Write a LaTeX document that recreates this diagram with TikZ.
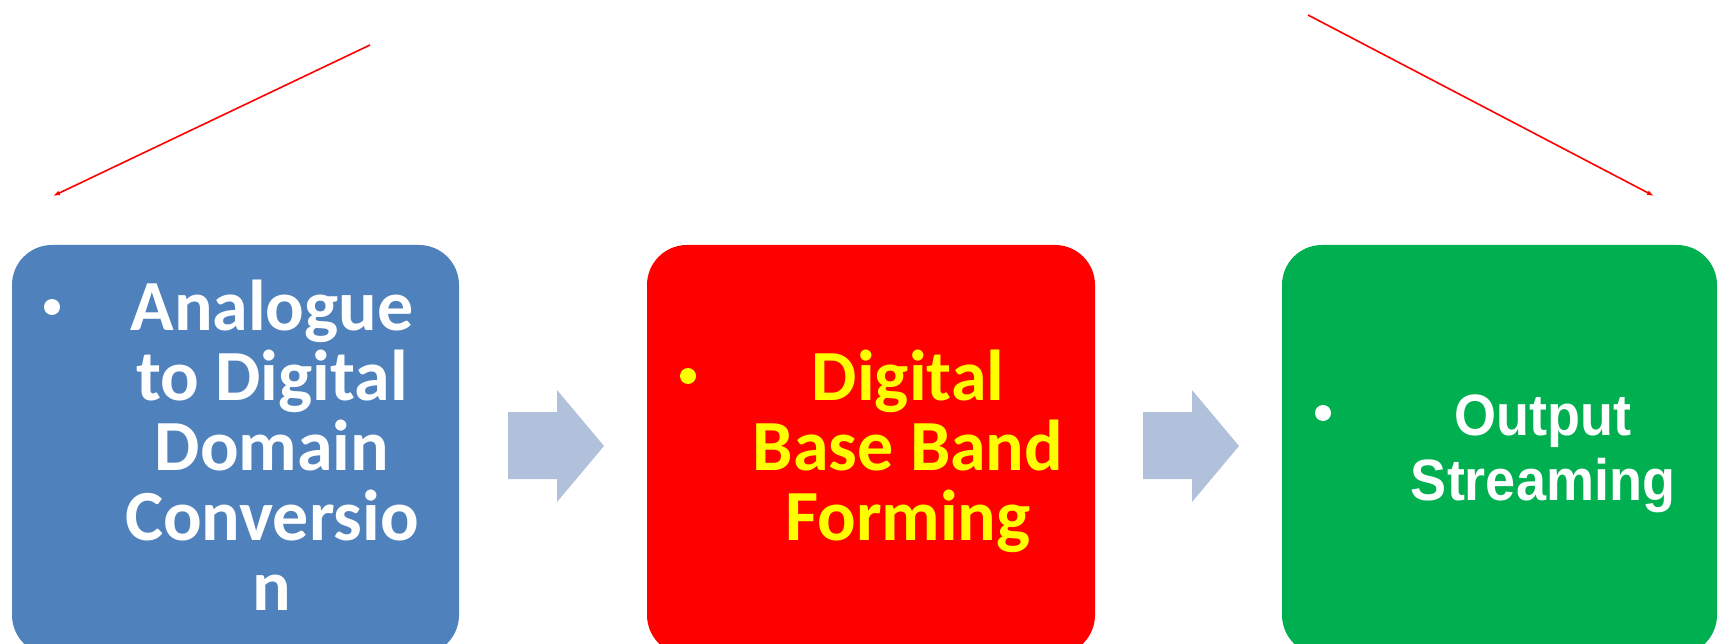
\documentclass[tikz,border=0pt]{standalone}
\usepackage{fontspec}
\usetikzlibrary{arrows.meta}
\newfontfamily\calfont{Carlito}
\newfontfamily\arialfont{Liberation Sans}
\definecolor{boxblue}{RGB}{79,129,189}
\definecolor{boxred}{RGB}{255,0,0}
\definecolor{boxgreen}{RGB}{0,176,80}
\definecolor{arrowblue}{RGB}{178,193,219}
\definecolor{txtyellow}{RGB}{255,255,0}
\tikzset{
  stage/.style={rounded corners=40pt},
  blockarrow/.style={fill=arrowblue, draw=none},
  redline/.style={draw=red, line width=1.6pt, -{Latex[length=7pt,width=5pt]}},
  bulletdot/.style={circle, inner sep=0pt, minimum size=16pt},
  caltext/.style={font=\calfont\bfseries\fontsize{72}{70}\selectfont, align=center, anchor=base, inner sep=0pt},
  arialtext/.style={font=\arialfont\bfseries\fontsize{54}{65}\selectfont, align=center, anchor=base, inner sep=0pt},
}
\begin{document}
\begin{tikzpicture}[x=1pt,y=-1pt]
\useasboundingbox (0,0) rectangle (1719,644);
\clip (0,0) rectangle (1719,644);
% stage boxes
\fill[boxblue, stage] (12,245) rectangle (459,655);
\fill[boxred, stage] (647,245) rectangle (1095,655);
\fill[boxgreen, stage] (1282,245) rectangle (1717,655);
\node[inner sep=0pt] (b1) at (235.5,450) {};
\node[inner sep=0pt] (b2) at (871,450) {};
\node[inner sep=0pt] (b3) at (1499.5,450) {};
% bullets
\node[bulletdot, fill=white] (d1) at (52,307) {};
\node[bulletdot, fill=txtyellow] (d2) at (688,376) {};
\node[bulletdot, fill=white] (d3) at (1323,413) {};
% texts (anchored at the baseline of the last line)
\node[caltext, text=white] (t1) at (272,610) {Analogue\\to Digital\\Domain\\Conversio\\n};
\node[caltext, text=txtyellow] (t2) at (908,540) {Digital\\Base Band\\Forming};
\node[arialtext, text=white] (t3) at (1543,500) {\scalebox{1}[1.08]{Output}\\\scalebox{1}[1.08]{Streaming}};
% block arrows
\fill[blockarrow] (508,412) -- (557,412) -- (557,390) -- (604,446) -- (557,502) -- (557,479) -- (508,479) -- cycle;
\fill[blockarrow] (1143,412) -- (1192,412) -- (1192,390) -- (1239,446) -- (1192,502) -- (1192,479) -- (1143,479) -- cycle;
% red lines
\coordinate (r1s) at (370,45);
\coordinate (r1e) at (53,196);
\coordinate (r2s) at (1308,15);
\coordinate (r2e) at (1654,196);
\draw[redline] (r1s) -- (r1e);
\draw[redline] (r2s) -- (r2e);
\end{tikzpicture}
\end{document}
